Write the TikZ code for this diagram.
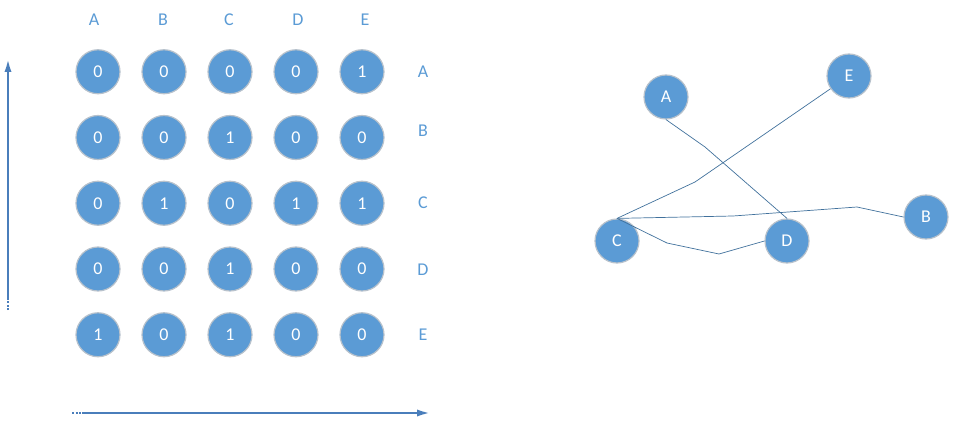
\documentclass[tikz,border=0pt]{standalone}
\usepackage{fontspec}
\setmainfont{Carlito}
\usetikzlibrary{arrows.meta,positioning,calc}

\definecolor{cellblue}{HTML}{5B9BD5}
\definecolor{cellrim}{HTML}{B8C2CC}
\definecolor{linkblue}{HTML}{41719C}
\definecolor{axisblue}{HTML}{4A7EBB}

\begin{document}
\begin{tikzpicture}[x=1pt, y=-1pt,
  every node/.style={font=\fontsize{18}{21}\selectfont},
  cell/.style={circle, fill=cellblue, draw=cellrim, line width=1.2pt,
    minimum size=44pt, inner sep=0pt, text=white},
  lbl/.style={text=cellblue},
  link/.style={draw=linkblue, line width=0.7pt, line join=round},
  axis/.style={draw=axisblue, line width=2.8pt,
    -{Latex[length=15pt, width=7pt]}}]
  \useasboundingbox (0,0) rectangle (955,425);

  % column headers
  \foreach \c/\x in {A/94, B/163, C/229, D/298, E/365}
    \node[lbl] (col-\c) at (\x,20) {\c};
  % row headers
  \foreach \c/\y in {A/72, B/131, C/203, D/270, E/335}
    \node[lbl] (row-\c) at (423,\y) {\c};

  % adjacency matrix
  \foreach \vals [count=\i] in {{0,0,0,0,1},{0,0,1,0,0},{0,1,0,1,1},{0,0,1,0,0},{1,0,1,0,0}}
    \foreach \v [count=\j] in \vals
      \node[cell] (m-\i-\j) at ({32+66*\j},{6+65.75*\i}) {\v};

  % axes
  \coordinate (ybot) at (8,300);
  \coordinate (ytop) at (8,57);
  \coordinate (xleft) at (82,413);
  \coordinate (xright) at (432,413);
  \draw[axis] (ybot) -- (ytop);
  \draw[axisblue, line width=2.8pt, dash pattern=on 2pt off 1.5pt] (8,310) -- (ybot);
  \draw[axis] (xleft) -- (xright);
  \draw[axisblue, line width=2.8pt, dash pattern=on 2pt off 1.5pt] (72,413) -- (xleft);

  % graph
  \node[cell] (A) at (666,97) {A};
  \node[cell] (E) at (849,76) {E};
  \node[cell] (B) at (926,217) {B};
  \node[cell] (C) at (617,241) {C};
  \node[cell] (D) at (787,241) {D};

  \coordinate (ad) at (705,147);
  \coordinate (ec) at (695,182);
  \coordinate (cb1) at (733,216);
  \coordinate (cb2) at (857,207);
  \coordinate (cd1) at (667,243);
  \coordinate (cd2) at (719,254);

  \draw[link] (A.south) -- (ad) -- (D.north);
  \draw[link] (E) -- (ec) -- (C.north);
  \draw[link] (C.north) -- (cb1) -- (cb2) -- (B.west);
  \draw[link] (C.north) -- (cd1) -- (cd2) -- (D.west);
\end{tikzpicture}
\end{document}
